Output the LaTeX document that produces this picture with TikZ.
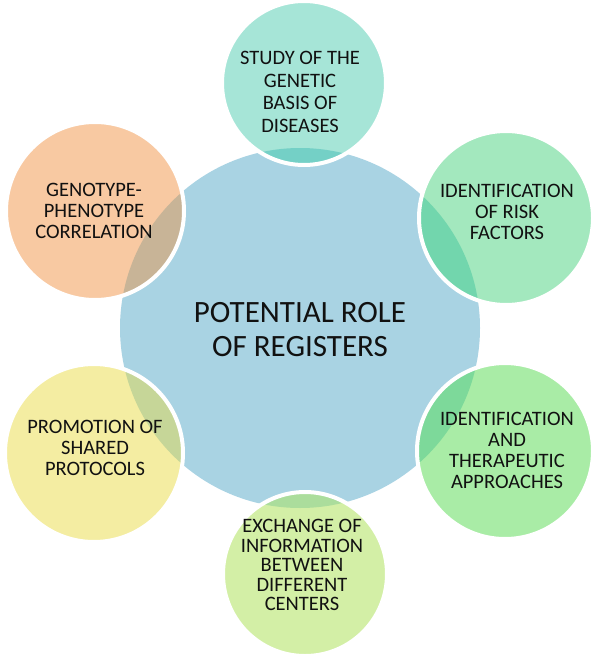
\documentclass[tikz,border=0pt]{standalone}
\usepackage{fontspec}
\setmainfont{Carlito}
\definecolor{hubblue}{HTML}{A9D3E3}
\definecolor{inkgray}{HTML}{111111}
\definecolor{genefill}{HTML}{A6E5D7}
\definecolor{geneover}{HTML}{74D0C6}
\definecolor{riskfill}{HTML}{A3E8BE}
\definecolor{riskover}{HTML}{72D6AD}
\definecolor{therfill}{HTML}{A9ECA6}
\definecolor{therover}{HTML}{7DD99A}
\definecolor{exchfill}{HTML}{D3EFA6}
\definecolor{exchover}{HTML}{ABDD9C}
\definecolor{protfill}{HTML}{F4EDA2}
\definecolor{protover}{HTML}{C6D698}
\definecolor{genofill}{HTML}{F8C9A2}
\definecolor{genoover}{HTML}{C8B497}
\tikzset{
  roletext/.style={font=\fontsize{20.5}{21}\selectfont, align=center, text=inkgray},
  hubtext/.style={font=\fontsize{31}{34}\selectfont, align=center, text=inkgray},
  ring/.style={draw=white, line width=4pt}
}

\begin{document}
\begin{tikzpicture}[x=1pt, y=-1pt]
  \useasboundingbox (0,0) rectangle (597,661);

  % Central disk
  \coordinate (hub) at (300,328);
  \fill[hubblue] (hub) circle (180pt);

  % Satellite disks: name/x/y/radius/fill/overlap
  \foreach \nm/\px/\py/\rr/\cfill/\cover in {
      gene/304/83/82/genefill/geneover,
      risk/506/218/87/riskfill/riskover,
      ther/505/451/88/therfill/therover,
      exch/305/574/82/exchfill/exchover,
      prot/94/453/89/protfill/protover,
      geno/95/211/89/genofill/genoover}{
    \coordinate (\nm) at (\px,\py);
    \fill[\cfill] (\nm) circle (\rr pt);
    \begin{scope}
      \clip (\nm) circle (\rr pt);
      \fill[\cover] (hub) circle (180pt);
    \end{scope}
    \draw[ring] (\nm) circle (\rr pt);
  }

  % Labels
  \node[roletext, font=\fontsize{20.5}{22.5}\selectfont] (genetxt) at (300,92) {STUDY OF THE\\GENETIC\\BASIS OF\\DISEASES};
  \node[roletext] (risktxt) at (507,212) {IDENTIFICATION\\OF RISK\\FACTORS};
  \node[roletext] (thertxt) at (507,450) {IDENTIFICATION\\AND\\THERAPEUTIC\\APPROACHES};
  \node[roletext, font=\fontsize{20.5}{19.5}\selectfont] (exchtxt) at (302,565) {EXCHANGE OF\\INFORMATION\\BETWEEN\\DIFFERENT\\CENTERS};
  \node[roletext] (prottxt) at (95,448) {PROMOTION OF\\SHARED\\PROTOCOLS};
  \node[roletext] (genotxt) at (94,211) {GENOTYPE-\\PHENOTYPE\\CORRELATION};
  \node[hubtext] (hubtxt) at (300,330) {POTENTIAL ROLE\\OF REGISTERS};
\end{tikzpicture}
\end{document}
